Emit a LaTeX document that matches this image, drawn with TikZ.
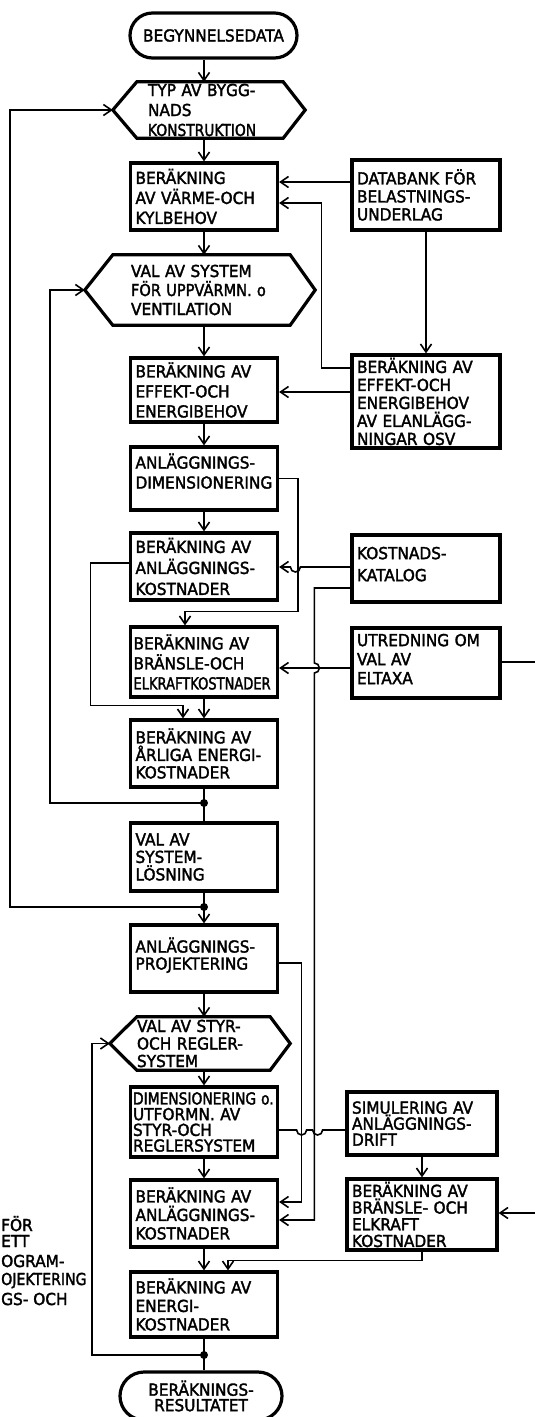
\documentclass[tikz,border=0pt]{standalone}
\usepackage{fontspec}
\setmainfont{DejaVu Sans}[FakeBold=2,FakeStretch=0.93]
\usepackage{graphicx}
\usetikzlibrary{arrows.meta,shapes.misc}

% horizontally condensed lettering for long lines
\newcommand{\sqz}[2]{\scalebox{#1}[1]{#2}}

\tikzset{
  lettering/.style={font=\fontsize{16.5}{#1}\selectfont},
  lettering/.default=20,
  procbox/.style={draw, line width=3.2pt, rectangle, align=left,
    inner xsep=5pt, inner ysep=0pt, text width=137pt, lettering},
  sidebox/.style={procbox, text width=138pt},
  choice/.style={rectangle, align=left, inner sep=0pt, lettering},
  hexline/.style={line width=3.2pt, line join=miter},
  terminal/.style={draw, line width=3.2pt, rounded rectangle, align=center,
    inner sep=0pt, lettering},
  conn/.style={line width=1.6pt},
  arr/.style={conn, -{Straight Barb[length=8pt,width=11pt]}},
  junction/.style={circle, fill=black, inner sep=0pt, minimum size=8pt},
  caption/.style={inner sep=0pt, lettering},
}

\begin{document}
\begin{tikzpicture}[x=1pt, y=-1pt]
\useasboundingbox (0,0) rectangle (535,1417);
\fill[white] (0,0) rectangle (535,1417);
\clip (0,0) rectangle (535,1417);

% ---------- terminals ----------
\node[terminal, minimum width=167pt, minimum height=45pt] (start) at (213.5,35.5) {BEGYNNELSEDATA};
\node[terminal, minimum width=162pt, minimum height=48pt, lettering=15.5] (result) at (201,1396) {BERÄKNINGS-\\RESULTATET};

% ---------- decisions (hexagons) ----------
\node[choice, minimum width=192pt, minimum height=56pt, text width=122pt] (typ) at (209,110)
  {TYP AV BYGG-\\NADS\\\sqz{0.9}{KONSTRUKTION}};
\draw[hexline] (typ.west) -- ([xshift=24pt]typ.north west) -- ([xshift=-22pt]typ.north east)
  -- (typ.east) -- ([xshift=-22pt]typ.south east) -- ([xshift=24pt]typ.south west) -- cycle;

\node[choice, lettering=19, minimum width=230pt, minimum height=70pt, text width=138pt] (valsys) at (200,290)
  {VAL AV SYSTEM\\\sqz{0.95}{FÖR UPPVÄRMN. o}\\VENTILATION};
\draw[hexline] (valsys.west) -- ([xshift=28pt]valsys.north west) -- ([xshift=-25pt]valsys.north east)
  -- (valsys.east) -- ([xshift=-25pt]valsys.south east) -- ([xshift=28pt]valsys.south west) -- cycle;

\node[choice, lettering=17.5, minimum width=180pt, minimum height=53pt, text width=126pt] (styr) at (200,1043.5)
  {VAL AV STYR-\\OCH REGLER-\\SYSTEM};
\draw[hexline] (styr.west) -- ([xshift=27pt]styr.north west) -- ([xshift=-20pt]styr.north east)
  -- (styr.east) -- ([xshift=-20pt]styr.south east) -- ([xshift=27pt]styr.south west) -- cycle;

% ---------- main column ----------
\node[procbox, minimum height=67pt] (varme) at (204,196.5) {BERÄKNING\\AV VÄRME-OCH\\KYLBEHOV};
\node[procbox, minimum height=64pt] (effekt) at (204,390) {BERÄKNING AV\\EFFEKT-OCH\\ENERGIBEHOV};
\node[procbox, minimum height=63pt, text depth=35pt] (dim) at (204,478.5) {ANLÄGGNINGS-\\DIMENSIONERING};
\node[procbox, minimum height=67pt, lettering=21] (ankost) at (204,566.5) {BERÄKNING AV\\ANLÄGGNINGS-\\KOSTNADER};
\node[procbox, minimum height=70pt, inner xsep=3pt, text width=141pt] (bransle) at (204,662)
  {BERÄKNING AV\\BRÄNSLE-OCH\\\sqz{0.85}{ELKRAFTKOSTNADER}};
\node[procbox, minimum height=67pt, lettering=17.5] (arliga) at (204,753.5) {BERÄKNING AV\\ÅRLIGA ENERGI-\\KOSTNADER};
\node[procbox, minimum height=68pt, lettering=17.5] (losning) at (204,857) {VAL AV\\SYSTEM-\\LÖSNING};
\node[procbox, minimum height=67pt, lettering=17, text depth=27pt] (proj) at (204,958.5) {ANLÄGGNINGS-\\PROJEKTERING};
\node[procbox, minimum height=70pt, lettering=15.7, inner xsep=2.5pt, text width=142pt] (dimstyr) at (204,1122)
  {\sqz{0.9}{DIMENSIONERING o.}\\UTFORMN. AV\\STYR-OCH\\REGLERSYSTEM};
\node[procbox, minimum height=67pt, lettering=18.5] (ankost2) at (204,1213.5) {BERÄKNING AV\\ANLÄGGNINGS-\\KOSTNADER};
\node[procbox, minimum height=65pt, lettering=18.5] (energi) at (204,1304.5) {BERÄKNING AV\\ENERGI-\\KOSTNADER};

% ---------- side column ----------
\node[sidebox, minimum height=70pt, lettering=18] (databank) at (426,195) {DATABANK FÖR\\BELASTNINGS-\\UNDERLAG};
\node[sidebox, minimum height=93pt, lettering=18] (elanl) at (426,401.5)
  {BERÄKNING AV\\EFFEKT-OCH\\ENERGIBEHOV\\AV ELANLÄGG-\\NINGAR OSV};
\node[sidebox, minimum height=67pt, lettering=22, text depth=31pt] (katalog) at (426,568.5) {KOSTNADS-\\KATALOG};
\node[sidebox, minimum height=70pt, lettering=19, text depth=46pt] (utredning) at (426,663) {UTREDNING OM\\VAL AV\\ELTAXA};
\node[sidebox, minimum height=63pt, lettering=16, text width=140pt] (simul) at (422,1123.5) {SIMULERING AV\\ANLÄGGNINGS-\\DRIFT};
\node[sidebox, minimum height=71pt, lettering=16.7, text width=140pt] (bransle2) at (422,1214.5)
  {BERÄKNING AV\\BRÄNSLE- OCH\\ELKRAFT\\KOSTNADER};

% ---------- junction dots ----------
\node[junction] (d1) at (204,803) {};
\node[junction] (d2) at (204,907) {};
\node[junction] (d3) at (204,1355) {};

% ---------- caption fragment at the left edge ----------
\node[caption, anchor=base west] (c1) at (1,1231) {FÖR};
\node[caption, anchor=base west] (c2) at (1,1247) {ETT};
\node[caption, anchor=base west] (c3) at (1,1267) {OGRAM-};
\node[caption, anchor=base west] (c4) at (1,1285) {\sqz{0.92}{OJEKTERING}};
\node[caption, anchor=base west] (c5) at (1,1305) {GS- OCH};

% ---------- main flow ----------
\draw[arr] (start.south -| varme.north) -- (typ.north -| varme.north);
\draw[arr] (typ.south -| varme.north) -- (varme.north);
\draw[arr] (varme.south) -- (varme.south |- valsys.north);
\draw[arr] (valsys.south -| effekt.north) -- (effekt.north);
\draw[arr] (effekt.south) -- (dim.north);
\draw[arr] (dim.south) -- (ankost.north);
\draw[arr] (bransle.south) -- (arliga.north);
\draw[conn] (arliga.south) -- (d1.center) -- (losning.north);
\draw[arr] (losning.south) -- (d2.center) -- (proj.north);
\draw[arr] (proj.south) -- (proj.south |- styr.north);
\draw[arr] (styr.south -| dimstyr.north) -- (dimstyr.north);
\draw[arr] (dimstyr.south) -- (ankost2.north);
\draw[arr] (ankost2.south) -- (energi.north);
\draw[conn] (energi.south) -- (d3.center) -- (d3.center |- result.north);

% ---------- feedback loops ----------
\draw[arr] (d1.center) -- ++(-154,0) |- (valsys.west);
\draw[arr] (d2.center) -- ++(-194,0) |- (typ.west);
\draw[arr] (d3.center) -- ++(-112,0) |- (styr.west);

% ---------- side inputs ----------
\draw[arr] ([yshift=13pt]databank.west) -- ([yshift=13pt]databank.west -| varme.east);
\draw[arr] (databank.south) -- (elanl.north);
\draw[arr] ([yshift=33.5pt]elanl.west) -- ++(-29,0) |- ([yshift=-6.5pt]varme.east);
\draw[arr] ([yshift=9.5pt]elanl.west) -- ([yshift=9.5pt]elanl.west -| effekt.east);

\draw[arr] (dim.east) -- ++(19,0) |- ([xshift=-19pt,yshift=14pt]bransle.north) -- ([xshift=-19pt]bransle.north);
\draw[arr] ([yshift=1.5pt]katalog.west) -- ++(-50,0) arc[start angle=0,end angle=-180,radius=5pt]
  -- ([yshift=1.5pt]katalog.west -| ankost.east);
\draw[arr] ([yshift=-19.5pt]katalog.west) -- ++(-36,0) -- ++(0,75) arc[start angle=90,end angle=-90,radius=5pt]
  |- ([yshift=-6.5pt]ankost2.east);
\draw[arr] ([yshift=3.5pt]ankost.west) -- ++(-38.5,0) |- ([xshift=-21pt,yshift=13pt]arliga.north) -- ([xshift=-21pt]arliga.north);
\draw[arr] ([yshift=-5pt]utredning.west) -- ([yshift=-5pt]utredning.west -| bransle.east);
\draw[arr] ([yshift=1pt]utredning.east) -- ++(45,0) |- ([yshift=1.5pt]bransle2.east);

\draw[arr] ([yshift=-4.5pt]proj.east) -- ++(22.5,0) |- ([yshift=11.5pt]ankost2.east);
\draw[conn] ([yshift=-8pt]dimstyr.east) -- ++(17.5,0) arc[start angle=180,end angle=360,radius=5pt]
  -- ++(6,0) arc[start angle=180,end angle=360,radius=5pt] -- ([yshift=-8pt]dimstyr.east -| simul.west);
\draw[arr] (simul.south) -- (bransle2.north);
\draw[arr] (bransle2.south) -- ++(0,9) -| ([xshift=24pt]energi.north);
\end{tikzpicture}
\end{document}
